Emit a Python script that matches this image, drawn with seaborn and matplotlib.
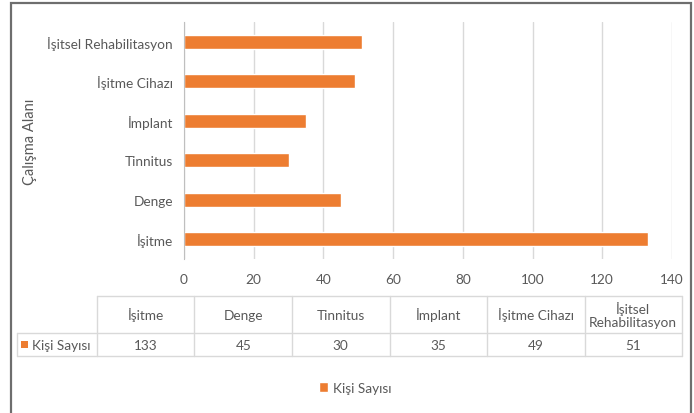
import pandas as pd
import matplotlib.pyplot as plt
import seaborn as sns
from matplotlib.patches import Rectangle
from matplotlib.lines import Line2D

# ---------------- DADOS ----------------
alanlar = ['İşitme', 'Denge', 'Tinnitus', 'İmplant', 'İşitme Cihazı', 'İşitsel Rehabilitasyon']
kisi_sayisi = [133, 45, 30, 35, 49, 51]
tablo_basliklari = ['İşitme', 'Denge', 'Tinnitus', 'İmplant', 'İşitme Cihazı', 'İşitsel\nRehabilitasyon']
x_ticks = [0, 20, 40, 60, 80, 100, 120, 140]

df = pd.DataFrame({'alan': alanlar, 'kisi': kisi_sayisi})

sns.set_style('white')
plt.rcParams['font.family'] = ['Lato', 'DejaVu Sans']
gri_yazi = '#595959'
turuncu = '#ED7D31'
fs = 9.8

W, H = 694, 414
fig = plt.figure(figsize=(W / 100, H / 100), dpi=100)
ax = fig.add_axes([184 / W, 1 - 260 / H, 488 / W, 237 / H])

# barras horizontais (İşitme embaixo)
sns.barplot(data=df, x='kisi', y='alan', order=alanlar[::-1], color=turuncu,
            saturation=1, width=0.36, label='Kişi Sayısı', ax=ax)
if ax.get_legend() is not None:
    ax.get_legend().remove()

ax.set_xlim(0, 140)
ax.set_ylim(5.5, -0.5)
ax.set_xticks(x_ticks)
ax.grid(axis='x', color='#d9d9d9', lw=1)
ax.set_axisbelow(True)
for s in ['top', 'right', 'bottom']:
    ax.spines[s].set_visible(False)
ax.spines['left'].set_color('#bfbfbf')
ax.tick_params(axis='x', length=0, pad=10, labelsize=fs, labelcolor=gri_yazi)
ax.tick_params(axis='y', which='major', length=0, pad=8, labelsize=fs, labelcolor=gri_yazi)
ax.set_yticks([i - 0.5 for i in range(7)], minor=True)
ax.tick_params(axis='y', which='minor', length=5, color='#bfbfbf')
ax.set_xlabel('')
ax.set_ylabel('Çalışma Alanı', fontsize=10.5, color=gri_yazi)
ax.yaxis.set_label_coords((37 - 184) / 488, 0.5)

# ---------------- TABELA (desenhada à mão, em pixels da figura) ----------------
def fx(px):
    return px / W

def fy(py):
    return 1 - py / H

cols = [97 + i * 97.5 for i in range(7)]
y_top, y_mid, y_bot = 297, 334, 357
cor_linha = '#d9d9d9'

def linha(xs, ys):
    fig.add_artist(Line2D([fx(x) for x in xs], [fy(y) for y in ys], color=cor_linha,
                          lw=1, transform=fig.transFigure))

linha([cols[0], cols[-1]], [y_top, y_top])
for y in [y_mid, y_bot]:
    linha([17, cols[-1]], [y, y])
for x in cols:
    linha([x, x], [y_top, y_bot])
linha([17, 17], [y_mid, y_bot])

for i, (bas, v) in enumerate(zip(tablo_basliklari, kisi_sayisi)):
    xc = (cols[i] + cols[i + 1]) / 2
    fig.text(fx(xc), fy((y_top + y_mid) / 2), bas, ha='center', va='center',
             fontsize=fs, color=gri_yazi, linespacing=1.1)
    fig.text(fx(xc), fy((y_mid + y_bot) / 2), str(v), ha='center', va='center',
             fontsize=fs, color=gri_yazi)

# marcador da linha da tabela
fig.add_artist(Rectangle((fx(21), fy(349)), 7 / W, 7 / H, transform=fig.transFigure,
                         facecolor=turuncu, edgecolor='none'))
fig.text(fx(32), fy((y_mid + y_bot) / 2), 'Kişi Sayısı', ha='left', va='center',
         fontsize=fs, color=gri_yazi)

# ---------------- LEGENDA ----------------
handles, labels = ax.get_legend_handles_labels()
fig.legend(handles[:1], labels[:1], loc='center', bbox_to_anchor=(355 / W, 1 - 389 / H),
           frameon=False, fontsize=fs, handlelength=0.7, handleheight=0.7,
           handletextpad=0.3, labelcolor=gri_yazi)

# moldura
fig.patches.append(Rectangle((11 / W, -0.05), 680 / W, 1.05 - 4 / H, transform=fig.transFigure,
                             fill=False, edgecolor='#6e6e6e', lw=1.6))

plt.savefig('out.png', dpi=100)
